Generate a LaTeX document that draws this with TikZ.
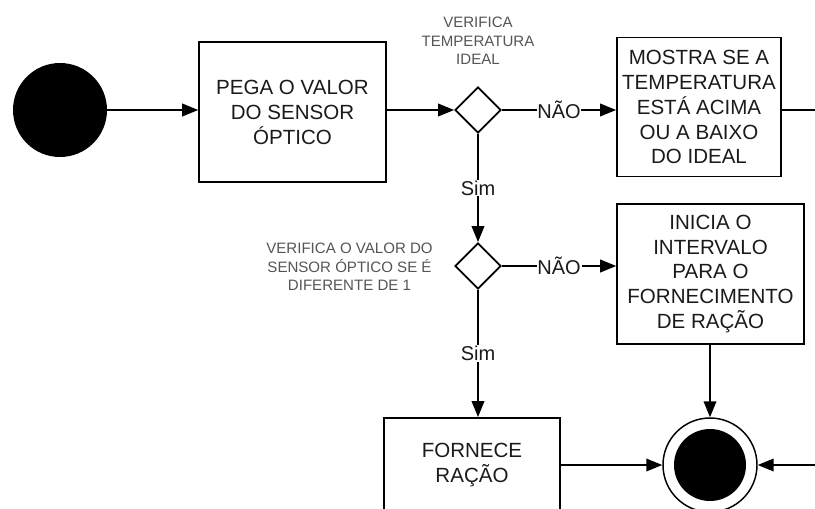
\documentclass[tikz,border=0pt]{standalone}
\usepackage{fontspec}
\setmainfont{Liberation Sans}
\usepackage{tikz}
\usepackage{xcolor}
\usetikzlibrary{shapes.geometric, arrows.meta}
\definecolor{note}{HTML}{555555}
\definecolor{ink}{HTML}{1A1A1A}
\tikzstyle{process} = [rectangle, minimum width=140pt, minimum height=105pt, text centered, align=center, draw=black, line width=1.4pt, text=ink, font=\fontsize{15.4}{18.7}\selectfont]
\tikzstyle{decision} = [diamond, minimum width=34.5pt, minimum height=34.5pt, inner sep=0pt, draw=black, line width=1.4pt]
\tikzstyle{note} = [align=center, text=note, font=\fontsize{11.3}{14}\selectfont]
\tikzstyle{answer} = [fill=white, inner sep=0.6pt, text=ink, font=\fontsize{15}{18}\selectfont]
\tikzstyle{arrow} = [line width=1.2pt, -{Triangle[length=12pt, width=9.5pt]}]

\begin{document}
\begin{tikzpicture}[x=0.75pt, y=-0.75pt]
    \useasboundingbox (0,0) rectangle (815,508);
    \clip (0,0) rectangle (815,508);

    % first row
    \node (start) [circle, fill=black, minimum size=70.5pt, inner sep=0pt] at (60,110) {};
    \node (proc1) [process] at (292.5,112) {PEGA O VALOR\\DO SENSOR\\ÓPTICO};
    \node (dec1) [decision] at (478,110) {};
    \node (note1) [note] at (478,41) {VERIFICA\\TEMPERATURA\\IDEAL};
    \node (proc2) [process, minimum width=123pt, minimum height=104.25pt, inner sep=1pt] at (699,107) {MOSTRA SE A\\TEMPERATURA\\ESTÁ ACIMA\\OU A BAIXO\\DO IDEAL};
    \coordinate (out1) at (815,110);

    % second row
    \node (dec2) [decision] at (478,266) {};
    \node (note2) [note] at (349.5,267) {VERIFICA O VALOR DO\\SENSOR ÓPTICO SE É\\DIFERENTE DE 1};
    \node (proc3) [process] at (710.5,274) {INICIA O\\INTERVALO\\PARA O\\FORNECIMENTO\\DE RAÇÃO};

    % last row
    \node (proc4) [process, minimum width=132pt] at (472,488) {FORNECE\\RAÇÃO\\~\\~};
    \node (stop) [circle, draw=black, line width=1.1pt, fill=white, minimum size=70.5pt, inner sep=0pt] at (710,465) {};
    \node (stopin) [circle, fill=black, minimum size=54pt, inner sep=0pt] at (stop) {};
    \coordinate (in2) at (815,465);

    \draw[arrow] (start.east) -- (start -| proc1.west);
    \draw[arrow] (proc1.east |- dec1) -- (dec1.west);
    \draw[arrow] (dec1.east) -- node[answer] {NÃO} (dec1 -| proc2.west);
    \draw[line width=1.2pt] (proc2.east |- out1) -- (out1);
    \draw[arrow] (dec1.south) -- node[answer] {Sim} (dec2.north);
    \draw[arrow] (dec2.east) -- node[answer] {NÃO} (dec2 -| proc3.west);
    \draw[arrow] (dec2.south) -- node[answer] {Sim} (dec2 |- proc4.north);
    \draw[arrow] (proc3.south -| stop) -- (stop.north);
    \draw[arrow] (proc4.east |- stop) -- (stop.west);
    \draw[arrow] (in2) -- (stop.east);
\end{tikzpicture}
\end{document}
